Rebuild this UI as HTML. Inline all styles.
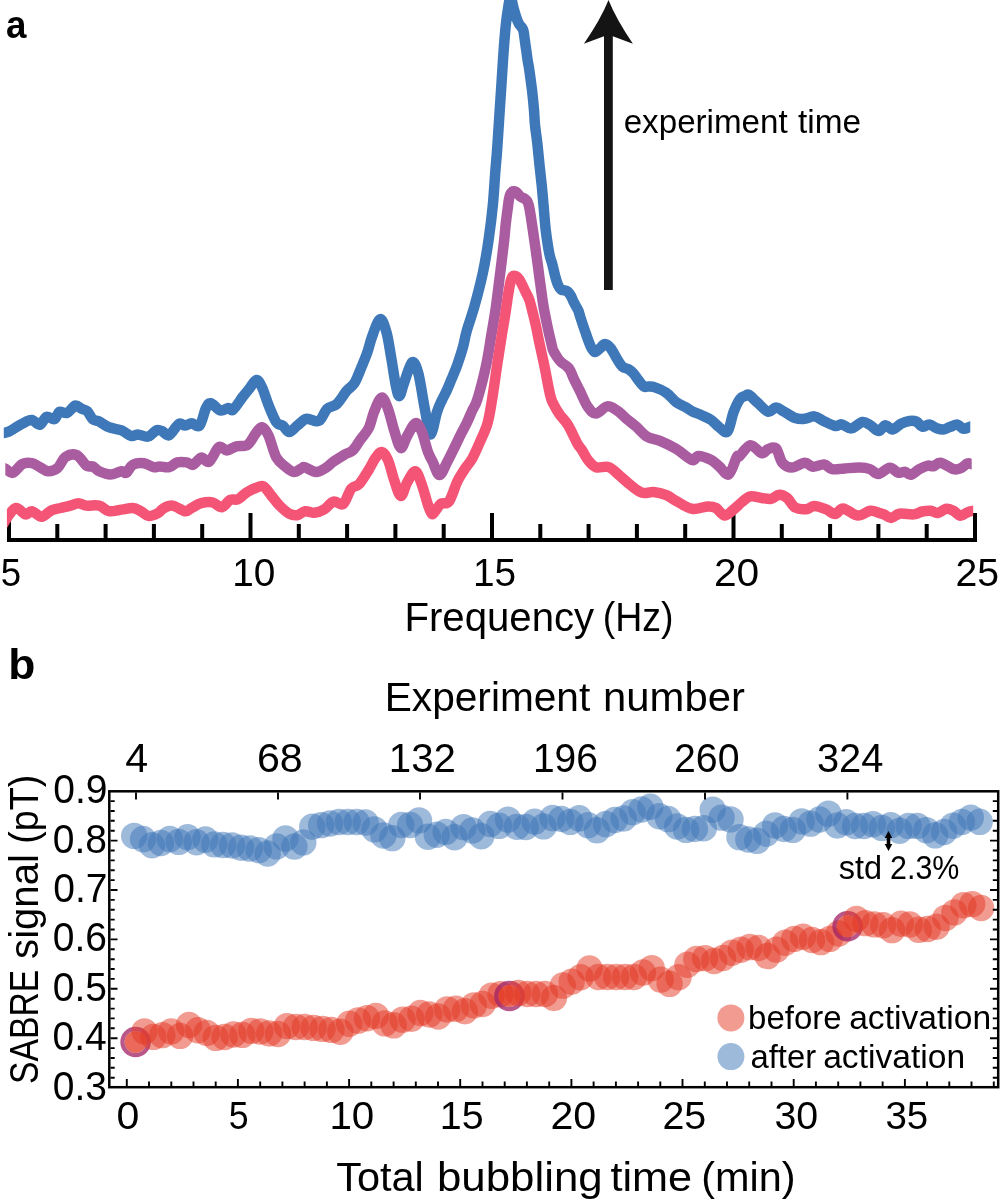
<!DOCTYPE html>
<html><head><meta charset="utf-8"><title>SABRE figure</title>
<style>html,body{margin:0;padding:0;background:#fff;}svg{display:block;font-family:"Liberation Sans",sans-serif;will-change:transform;}</style>
</head><body>
<svg width="1000" height="1202" viewBox="0 0 1000 1202" font-family="Liberation Sans, sans-serif"><defs><clipPath id="cb"><rect x="3.8" y="-20" width="966.5" height="600"/></clipPath><clipPath id="cp"><rect x="5.3" y="-20" width="966.4" height="600"/></clipPath><clipPath id="ck"><rect x="6.9" y="-20" width="966.3" height="600"/></clipPath><clipPath id="pb"><rect x="109" y="791" width="889" height="296"/></clipPath></defs>
<path d="M7,540 H977" stroke="#000" stroke-width="4" fill="none"/>
<path d="M9.0,513 V540 M57.3,524 V540 M105.6,524 V540 M153.9,524 V540 M202.2,524 V540 M250.5,513 V540 M298.8,524 V540 M347.1,524 V540 M395.4,524 V540 M443.7,524 V540 M492.0,513 V540 M540.3,524 V540 M588.6,524 V540 M636.9,524 V540 M685.2,524 V540 M733.5,513 V540 M781.8,524 V540 M830.1,524 V540 M878.4,524 V540 M926.7,524 V540 M975.0,513 V540" stroke="#000" stroke-width="4" fill="none"/>
<path d="M1.0,433.5 C1.5,433.4 2.6,433.3 4.0,432.9 C5.4,432.5 7.3,432.3 9.6,431.2 C11.9,430.1 14.9,427.9 17.6,426.4 C20.3,424.8 23.2,423.0 25.6,421.9 C28.0,420.8 29.6,419.5 32.0,420.0 C34.4,420.5 37.6,425.3 40.0,424.8 C42.4,424.3 44.0,417.7 46.4,416.8 C48.8,415.9 52.3,420.0 54.4,419.2 C56.5,418.4 57.1,413.1 59.2,412.0 C61.3,410.9 64.5,413.9 67.2,412.8 C69.9,411.7 72.8,406.3 75.2,405.6 C77.6,404.9 79.6,407.9 81.6,408.8 C83.6,409.7 85.3,409.5 87.2,411.2 C89.1,412.9 90.8,417.5 92.8,419.2 C94.8,420.9 96.5,420.3 99.2,421.6 C101.9,422.9 105.1,425.7 108.8,427.2 C112.5,428.7 117.9,428.9 121.6,430.4 C125.3,431.9 128.5,435.3 131.2,436.0 C133.9,436.7 134.9,434.3 137.6,434.4 C140.3,434.5 144.8,436.9 147.2,436.8 C149.6,436.7 150.4,435.1 152.0,434.0 C153.6,432.9 155.3,430.5 157.0,430.0 C158.7,429.5 160.0,430.1 162.0,431.0 C164.0,431.9 166.4,436.4 169.2,435.2 C172.0,434.0 176.1,425.6 178.8,424.0 C181.5,422.4 183.1,425.7 185.2,425.6 C187.3,425.5 189.2,423.2 191.6,423.2 C194.0,423.2 197.2,428.1 199.6,425.6 C202.0,423.1 204.1,411.7 206.0,408.0 C207.9,404.3 208.4,402.8 210.8,403.2 C213.2,403.6 217.5,409.6 220.4,410.4 C223.3,411.2 226.3,408.1 228.4,408.0 C230.5,407.9 230.8,411.5 233.2,409.6 C235.6,407.7 240.1,400.3 242.8,396.8 C245.5,393.3 246.9,391.6 249.2,388.8 C251.5,386.0 254.3,380.3 256.4,380.0 C258.5,379.7 260.0,383.1 262.0,387.2 C264.0,391.3 266.0,398.9 268.4,404.8 C270.8,410.7 274.0,418.9 276.4,422.4 C278.8,425.9 280.7,424.0 282.8,425.6 C284.9,427.2 286.8,432.0 289.2,432.0 C291.6,432.0 294.5,427.7 297.2,425.6 C299.9,423.5 303.1,420.3 305.2,419.2 C307.3,418.1 307.3,418.9 309.6,419.2 C311.9,419.5 316.3,422.5 319.2,420.8 C322.1,419.1 324.3,411.6 327.2,408.8 C330.1,406.0 333.6,406.9 336.8,404.0 C340.0,401.1 343.5,394.7 346.4,391.2 C349.3,387.7 352.0,386.9 354.4,383.2 C356.8,379.5 358.7,373.9 360.8,368.8 C362.9,363.7 365.3,358.1 367.2,352.8 C369.1,347.5 369.9,342.4 372.0,336.8 C374.1,331.2 377.6,320.0 380.0,319.2 C382.4,318.4 384.5,325.6 386.4,332.0 C388.3,338.4 389.6,348.5 391.2,357.6 C392.8,366.7 394.6,380.0 396.0,386.4 C397.4,392.8 398.2,396.5 399.5,396.0 C400.8,395.5 401.9,388.8 404.0,383.2 C406.1,377.6 409.6,364.0 412.0,362.4 C414.4,360.8 416.3,365.9 418.4,373.6 C420.5,381.3 422.8,398.7 424.8,408.8 C426.8,418.9 428.5,434.0 430.5,434.5 C432.5,435.0 435.1,417.8 437.0,412.0 C438.9,406.2 440.4,403.5 442.0,400.0 C443.6,396.5 444.8,394.7 446.5,391.0 C448.2,387.3 450.1,382.5 452.0,378.0 C453.9,373.5 455.8,369.2 457.6,364.0 C459.4,358.8 461.5,352.4 463.0,347.0 C464.5,341.6 464.7,338.1 466.6,331.3 C468.5,324.5 471.7,316.1 474.4,306.4 C477.1,296.7 480.4,284.2 482.8,273.1 C485.2,262.0 487.0,250.9 488.6,239.8 C490.2,228.7 491.6,217.7 492.7,206.6 C493.8,195.5 494.5,182.7 495.2,173.3 C495.9,163.9 496.4,159.7 497.1,150.0 C497.8,140.3 498.7,125.8 499.4,115.0 C500.1,104.2 500.8,94.2 501.4,85.0 C502.0,75.8 502.4,69.2 503.0,60.0 C503.6,50.8 504.6,38.0 505.3,30.0 C506.1,22.0 506.6,17.5 507.5,12.0 C508.4,6.5 509.5,-2.3 510.5,-3.0 C511.5,-3.7 512.5,4.5 513.5,8.0 C514.5,11.5 515.6,15.3 516.5,18.0 C517.4,20.7 518.2,22.5 519.0,24.0 C519.8,25.5 520.8,25.8 521.5,27.0 C522.2,28.2 523.0,28.8 523.5,31.0 C524.0,33.2 524.3,36.8 524.8,40.0 C525.2,43.2 525.7,46.7 526.2,50.0 C526.7,53.3 527.1,56.7 527.6,60.0 C528.1,63.3 528.6,65.0 529.3,70.0 C530.0,75.0 531.2,83.3 532.0,90.0 C532.8,96.7 533.5,104.2 534.0,110.0 C534.5,115.8 534.4,119.2 535.0,125.0 C535.6,130.8 536.8,138.3 537.5,145.0 C538.2,151.7 538.8,158.3 539.5,165.0 C540.2,171.7 541.0,178.3 541.7,185.0 C542.4,191.7 542.8,197.5 543.5,205.0 C544.2,212.5 544.8,221.8 545.7,229.8 C546.7,237.8 548.1,247.2 549.2,253.1 C550.3,259.0 551.5,261.0 552.5,265.0 C553.5,269.0 554.5,273.7 555.4,277.0 C556.3,280.3 557.1,282.9 558.0,285.0 C558.9,287.1 559.8,288.6 561.0,289.5 C562.2,290.4 563.8,290.1 565.0,290.5 C566.2,290.9 567.0,291.1 568.0,292.0 C569.0,292.9 570.1,294.5 571.0,296.0 C571.9,297.5 572.5,299.5 573.2,301.0 C573.9,302.5 574.4,303.3 575.3,305.0 C576.2,306.7 577.7,309.0 578.5,311.0 C579.3,313.0 579.1,313.3 580.3,317.0 C581.5,320.7 584.0,328.4 585.8,333.3 C587.5,338.2 589.3,343.5 590.8,346.6 C592.3,349.7 593.5,351.7 595.0,352.0 C596.5,352.3 598.3,349.6 600.0,348.3 C601.7,347.0 603.2,344.1 605.0,344.1 C606.8,344.1 608.9,346.0 610.8,348.3 C612.7,350.6 614.7,355.1 616.6,358.2 C618.5,361.2 620.5,364.8 622.4,366.6 C624.3,368.4 626.4,368.0 628.2,369.1 C630.0,370.2 631.5,371.4 633.2,373.2 C634.9,375.0 636.4,377.7 638.2,379.9 C640.0,382.1 642.2,385.4 644.0,386.5 C645.8,387.6 647.2,386.4 649.0,386.5 C650.8,386.6 652.1,386.3 655.0,387.4 C657.9,388.4 662.9,390.4 666.4,392.8 C669.9,395.2 672.8,399.6 676.0,402.0 C679.2,404.4 682.9,405.7 685.6,407.2 C688.3,408.7 689.3,409.9 692.0,411.2 C694.7,412.5 698.4,413.7 701.6,415.2 C704.8,416.7 708.3,418.0 711.2,420.0 C714.1,422.0 716.5,425.3 719.2,427.2 C721.9,429.1 725.1,434.0 727.5,431.5 C729.9,429.0 731.5,417.4 733.6,412.0 C735.7,406.6 738.1,401.7 740.0,399.0 C741.9,396.3 743.5,396.7 745.0,396.0 C746.5,395.3 746.8,393.8 748.8,394.8 C750.8,395.8 753.6,399.2 756.8,402.0 C760.0,404.8 764.8,410.7 768.0,411.6 C771.2,412.5 773.3,407.6 776.0,407.6 C778.7,407.6 780.8,409.9 784.0,411.6 C787.2,413.3 791.7,416.8 795.2,418.0 C798.7,419.2 801.6,419.1 804.8,418.8 C808.0,418.5 811.2,416.0 814.4,416.4 C817.6,416.8 820.5,419.6 824.0,421.2 C827.5,422.8 832.3,425.5 835.2,426.0 C838.1,426.5 838.9,424.0 841.6,424.4 C844.3,424.8 847.7,428.8 851.2,428.4 C854.7,428.0 859.3,422.6 862.4,422.0 C865.5,421.4 867.3,423.5 870.0,425.0 C872.7,426.5 875.8,430.9 878.4,431.0 C881.0,431.1 883.1,425.6 885.5,425.3 C887.9,425.1 889.9,429.8 892.5,429.5 C895.1,429.2 898.2,425.2 901.0,423.8 C903.8,422.4 906.9,421.4 909.5,421.0 C912.1,420.6 914.5,420.8 916.6,421.7 C918.7,422.6 920.1,426.2 922.2,426.7 C924.3,427.2 926.9,424.4 929.3,424.6 C931.7,424.8 934.0,427.3 936.4,428.1 C938.8,428.9 941.1,429.7 943.5,429.5 C945.9,429.3 948.1,427.5 950.5,426.7 C952.9,425.9 955.5,424.2 957.6,424.6 C959.7,425.0 961.2,428.5 963.3,428.8 C965.4,429.1 968.7,427.2 970.3,426.7 C971.9,426.2 972.5,426.1 973.0,426.0" fill="none" stroke="#3E78B8" stroke-width="10.5" stroke-linejoin="round" stroke-linecap="butt" clip-path="url(#cb)"/>
<path d="M2.0,468.0 C2.6,468.1 3.8,468.0 5.6,468.8 C7.4,469.6 10.0,473.6 12.8,472.8 C15.6,472.0 19.2,465.6 22.4,464.0 C25.6,462.4 29.1,462.7 32.0,463.2 C34.9,463.7 37.3,465.9 40.0,467.2 C42.7,468.5 45.1,471.1 48.0,471.2 C50.9,471.3 54.7,470.4 57.6,468.0 C60.5,465.6 62.4,458.9 65.6,456.8 C68.8,454.7 73.3,453.7 76.8,455.2 C80.3,456.7 83.7,463.7 86.4,465.6 C89.1,467.5 90.7,465.5 92.8,466.4 C94.9,467.3 96.3,469.9 99.2,471.2 C102.1,472.5 106.7,474.4 110.4,474.4 C114.1,474.4 118.9,471.5 121.6,471.2 C124.3,470.9 124.5,473.9 126.4,472.8 C128.3,471.7 129.9,466.4 132.8,464.8 C135.7,463.2 140.5,462.8 144.0,463.2 C147.5,463.6 151.0,466.7 153.6,467.2 C156.2,467.7 157.0,466.4 159.6,466.4 C162.2,466.4 166.3,467.9 169.2,467.2 C172.1,466.5 174.3,463.2 177.2,462.4 C180.1,461.6 184.1,462.0 186.8,462.4 C189.5,462.8 190.8,465.6 193.2,464.8 C195.6,464.0 198.5,458.1 201.2,457.6 C203.9,457.1 206.3,463.3 209.2,461.6 C212.1,459.9 215.9,449.1 218.8,447.2 C221.7,445.3 223.9,450.5 226.8,450.4 C229.7,450.3 232.9,447.3 236.4,446.4 C239.9,445.5 244.4,446.9 247.6,444.8 C250.8,442.7 253.2,436.5 255.6,433.6 C258.0,430.7 259.9,426.9 262.0,427.2 C264.1,427.5 266.0,430.1 268.4,435.2 C270.8,440.3 273.5,452.3 276.4,457.6 C279.3,462.9 283.1,464.8 286.0,467.2 C288.9,469.6 291.3,471.9 294.0,472.0 C296.7,472.1 300.2,468.8 302.0,468.0 C303.8,467.2 302.5,466.5 304.8,467.2 C307.1,467.9 312.5,471.9 316.0,472.0 C319.5,472.1 322.7,469.7 325.6,468.0 C328.5,466.3 330.4,463.9 333.6,461.6 C336.8,459.3 341.6,456.3 344.8,454.4 C348.0,452.5 350.1,452.9 352.8,450.4 C355.5,447.9 358.1,442.9 360.8,439.2 C363.5,435.5 366.6,432.5 368.8,428.0 C371.0,423.5 371.9,417.1 374.0,412.0 C376.1,406.9 379.3,398.1 381.6,397.6 C383.9,397.1 385.9,403.2 388.0,408.8 C390.1,414.4 392.3,424.7 394.4,431.2 C396.5,437.7 398.7,447.2 400.8,448.0 C402.9,448.8 404.8,440.1 407.2,436.0 C409.6,431.9 412.8,424.0 415.2,423.2 C417.6,422.4 419.5,426.4 421.6,431.2 C423.7,436.0 426.1,446.9 428.0,452.0 C429.9,457.1 430.9,458.2 432.8,462.0 C434.7,465.8 437.1,475.0 439.5,475.0 C441.9,475.0 444.6,466.7 447.2,462.0 C449.8,457.3 452.7,451.1 454.9,446.6 C457.1,442.1 458.6,438.9 460.5,435.0 C462.4,431.1 464.7,427.3 466.6,423.3 C468.5,419.3 470.2,415.1 472.0,411.0 C473.8,406.9 475.1,406.8 477.5,399.0 C479.9,391.2 484.1,374.8 486.4,364.0 C488.7,353.2 489.9,343.6 491.5,334.0 C493.1,324.4 494.6,316.5 496.0,306.4 C497.4,296.2 498.8,284.2 500.2,273.1 C501.6,262.0 503.3,248.0 504.2,240.0 C505.1,232.0 505.1,230.0 505.6,225.0 C506.2,220.0 506.9,214.3 507.5,210.0 C508.1,205.7 508.5,201.8 509.0,199.0 C509.5,196.2 510.0,194.8 510.7,193.5 C511.4,192.2 512.1,191.6 513.0,191.3 C513.9,191.0 515.1,191.3 516.0,191.8 C516.9,192.3 517.7,193.6 518.5,194.5 C519.3,195.4 520.1,196.4 521.0,197.0 C521.9,197.6 523.0,197.7 524.0,198.3 C525.0,198.9 526.2,199.7 527.0,200.8 C527.8,201.9 528.1,202.6 528.7,205.0 C529.3,207.4 529.7,209.2 530.6,215.0 C531.5,220.8 533.1,231.7 534.3,240.0 C535.5,248.3 536.8,257.3 537.8,265.0 C538.8,272.7 539.6,279.0 540.6,286.0 C541.6,293.0 542.4,300.0 543.6,307.0 C544.8,314.0 546.6,322.2 547.8,328.0 C549.0,333.8 550.1,338.3 551.0,342.0 C551.9,345.7 552.0,347.5 553.0,350.0 C554.0,352.5 555.7,355.0 557.0,357.0 C558.3,359.0 559.4,360.5 561.0,362.0 C562.6,363.5 564.9,364.7 566.4,366.0 C567.9,367.3 568.7,367.7 570.0,370.0 C571.3,372.3 572.7,376.5 574.4,380.0 C576.1,383.5 577.7,386.7 580.0,391.2 C582.3,395.7 585.3,403.5 588.0,407.2 C590.7,410.9 592.8,413.7 596.0,413.6 C599.2,413.5 603.7,406.9 607.2,406.4 C610.7,405.9 613.3,408.1 616.8,410.4 C620.3,412.7 624.8,417.3 628.0,420.0 C631.2,422.7 632.8,423.6 636.0,426.4 C639.2,429.2 643.2,434.4 647.2,436.8 C651.2,439.2 655.2,438.8 660.0,440.8 C664.8,442.8 670.7,445.6 676.0,448.8 C681.3,452.0 688.3,458.8 692.0,460.0 C695.7,461.2 695.2,456.0 698.4,456.0 C701.6,456.0 707.7,458.3 711.2,460.0 C714.7,461.7 716.3,464.0 719.2,466.4 C722.1,468.8 725.9,476.0 728.8,474.4 C731.7,472.8 735.1,459.8 736.8,456.8 C738.5,453.8 736.9,458.3 739.2,456.4 C741.5,454.5 746.7,445.7 750.4,445.2 C754.1,444.7 758.7,452.5 761.6,453.2 C764.5,453.9 765.6,450.0 768.0,449.2 C770.4,448.4 773.6,446.1 776.0,448.4 C778.4,450.7 779.7,459.6 782.4,462.8 C785.1,466.0 788.3,467.6 792.0,467.6 C795.7,467.6 801.3,462.9 804.8,462.8 C808.3,462.7 809.6,466.5 812.8,466.8 C816.0,467.1 820.8,464.0 824.0,464.4 C827.2,464.8 828.5,468.5 832.0,469.2 C835.5,469.9 840.3,468.7 844.8,468.4 C849.3,468.1 855.0,467.5 859.2,467.6 C863.4,467.7 866.7,468.0 869.9,469.1 C873.1,470.2 875.1,474.2 878.4,474.0 C881.7,473.8 886.4,467.9 889.7,467.7 C893.0,467.5 895.6,471.9 898.2,472.6 C900.8,473.3 903.2,471.5 905.3,471.9 C907.4,472.3 908.5,475.3 910.9,474.8 C913.2,474.3 916.6,470.6 919.4,469.1 C922.2,467.6 925.5,466.1 927.9,465.6 C930.2,465.1 931.4,466.8 933.5,466.3 C935.6,465.8 937.3,462.2 940.6,462.7 C943.9,463.2 950.1,468.2 953.4,469.1 C956.7,470.1 958.0,469.3 960.4,468.4 C962.8,467.5 965.6,464.2 967.5,463.5 C969.4,462.8 970.5,464.1 971.7,464.2 C973.0,464.3 974.5,464.0 975.0,464.0" fill="none" stroke="#AA5CA0" stroke-width="10.5" stroke-linejoin="round" stroke-linecap="butt" clip-path="url(#cp)"/>
<path d="M1.0,528.0 C2.0,526.2 4.7,520.8 7.2,517.5 C9.7,514.2 12.9,508.5 16.0,508.0 C19.1,507.5 22.9,513.9 25.6,514.4 C28.3,514.9 29.3,510.8 32.0,511.2 C34.7,511.6 38.4,516.9 41.6,516.8 C44.8,516.7 48.0,511.9 51.2,510.4 C54.4,508.9 57.6,508.8 60.8,508.0 C64.0,507.2 67.5,506.4 70.4,505.6 C73.3,504.8 75.7,503.2 78.4,503.2 C81.1,503.2 82.9,505.2 86.4,505.6 C89.9,506.0 95.5,504.7 99.2,505.6 C102.9,506.5 105.1,510.5 108.8,511.2 C112.5,511.9 117.6,510.1 121.6,509.6 C125.6,509.1 129.6,507.7 132.8,508.0 C136.0,508.3 138.1,509.9 140.8,511.2 C143.5,512.5 145.9,515.7 148.8,516.0 C151.7,516.3 156.1,514.0 158.4,512.8 C160.7,511.6 160.5,510.0 162.8,508.8 C165.1,507.6 168.7,505.2 172.4,505.6 C176.1,506.0 182.0,510.8 185.2,511.2 C188.4,511.6 188.9,509.3 191.6,508.0 C194.3,506.7 197.7,504.1 201.2,503.2 C204.7,502.3 208.9,501.7 212.4,502.4 C215.9,503.1 219.1,507.6 222.0,507.2 C224.9,506.8 227.3,501.3 230.0,500.0 C232.7,498.7 235.3,500.4 238.0,499.2 C240.7,498.0 243.1,494.7 246.0,492.8 C248.9,490.9 252.7,489.1 255.6,488.0 C258.5,486.9 260.9,485.1 263.6,486.4 C266.3,487.7 268.9,492.8 271.6,496.0 C274.3,499.2 276.7,502.7 279.6,505.6 C282.5,508.5 286.3,512.0 289.2,513.6 C292.1,515.2 294.5,515.6 297.2,515.2 C299.9,514.8 302.3,511.6 305.2,511.2 C308.1,510.8 311.3,513.1 314.4,512.8 C317.5,512.5 320.8,511.5 324.0,509.6 C327.2,507.7 330.4,502.5 333.6,501.6 C336.8,500.7 340.3,506.1 343.2,504.0 C346.1,501.9 348.5,492.1 351.2,488.8 C353.9,485.5 356.3,487.2 359.2,484.0 C362.1,480.8 366.1,473.9 368.8,469.6 C371.5,465.3 373.1,461.3 375.2,458.4 C377.3,455.5 379.5,451.7 381.6,452.0 C383.7,452.3 385.9,455.2 388.0,460.0 C390.1,464.8 392.3,474.8 394.4,480.8 C396.5,486.8 398.7,495.7 400.8,496.0 C402.9,496.3 404.8,486.5 407.2,482.4 C409.6,478.3 412.8,470.9 415.2,471.2 C417.6,471.5 419.5,478.4 421.6,484.0 C423.7,489.6 426.3,500.0 428.0,505.0 C429.7,510.0 430.7,513.2 432.0,514.0 C433.3,514.8 434.5,511.7 436.0,510.0 C437.5,508.3 438.8,505.1 441.0,503.6 C443.2,502.2 446.4,505.0 449.1,501.3 C451.8,497.6 454.8,486.8 457.3,481.5 C459.8,476.2 461.7,473.7 464.2,469.8 C466.7,465.9 469.7,463.1 472.4,458.2 C475.1,453.3 478.0,446.5 480.5,440.7 C483.0,434.9 485.6,430.1 487.5,423.3 C489.4,416.5 490.4,409.6 492.0,400.0 C493.6,390.4 495.4,376.8 497.0,366.0 C498.6,355.2 500.4,343.7 501.8,335.0 C503.2,326.3 504.2,321.0 505.3,314.0 C506.4,307.0 507.5,298.3 508.4,293.0 C509.3,287.7 509.8,284.8 510.5,282.0 C511.2,279.2 511.6,277.4 512.5,276.5 C513.4,275.6 514.9,275.9 516.0,276.3 C517.1,276.7 518.0,277.6 519.0,279.0 C520.0,280.4 521.2,282.8 522.3,285.0 C523.4,287.2 524.4,289.5 525.6,292.0 C526.8,294.5 528.1,296.3 529.4,300.0 C530.6,303.7 531.9,309.3 533.1,314.0 C534.3,318.7 535.4,323.3 536.4,328.0 C537.4,332.7 537.9,336.0 539.2,342.0 C540.5,348.0 542.1,355.0 544.0,364.0 C545.9,373.0 548.7,389.2 550.4,396.0 C552.1,402.8 552.4,401.8 554.0,405.0 C555.6,408.2 557.7,411.7 560.0,415.0 C562.3,418.3 565.1,420.2 568.0,425.0 C570.9,429.8 575.3,439.8 577.6,444.0 C579.9,448.2 580.3,447.3 582.0,450.0 C583.7,452.7 585.7,457.1 588.0,460.0 C590.3,462.9 592.5,466.0 596.0,467.2 C599.5,468.4 604.8,465.7 608.8,467.2 C612.8,468.7 616.3,472.9 620.0,476.0 C623.7,479.1 627.5,482.8 631.2,485.6 C634.9,488.4 638.7,491.7 642.4,492.8 C646.1,493.9 649.6,491.6 653.6,492.0 C657.6,492.4 662.7,493.7 666.4,495.2 C670.1,496.7 671.7,498.5 676.0,500.8 C680.3,503.1 686.7,507.9 692.0,508.8 C697.3,509.7 704.0,506.5 708.0,506.4 C712.0,506.3 713.2,506.5 716.0,508.0 C718.8,509.5 721.7,515.2 724.5,515.5 C727.3,515.8 730.1,512.2 733.0,510.0 C735.9,507.8 739.1,504.3 742.0,502.0 C744.9,499.7 747.1,497.1 750.4,496.4 C753.7,495.7 758.1,497.6 761.6,498.0 C765.1,498.4 768.3,499.3 771.2,498.8 C774.1,498.3 776.5,494.9 779.2,494.8 C781.9,494.7 784.5,495.9 787.2,498.0 C789.9,500.1 792.0,505.7 795.2,507.6 C798.4,509.5 803.2,509.5 806.4,509.2 C809.6,508.9 811.2,506.0 814.4,506.0 C817.6,506.0 822.1,507.9 825.6,509.2 C829.1,510.5 832.3,514.1 835.2,514.0 C838.1,513.9 839.5,508.1 843.2,508.4 C846.9,508.7 853.1,515.2 857.6,515.6 C862.1,516.0 866.7,511.2 870.4,510.8 C874.1,510.4 877.7,512.6 880.0,513.2 C882.3,513.8 882.1,513.6 884.0,514.4 C885.9,515.2 888.6,518.0 891.2,517.9 C893.8,517.8 895.8,514.3 899.6,513.7 C903.4,513.1 910.0,514.8 913.8,514.4 C917.6,514.0 919.4,512.1 922.2,511.5 C925.0,510.9 928.1,510.6 930.7,510.8 C933.3,511.1 935.2,513.4 937.8,513.0 C940.4,512.6 943.7,509.1 946.3,508.7 C948.9,508.3 951.0,509.6 953.4,510.8 C955.8,512.0 958.0,515.5 960.4,515.8 C962.8,516.0 965.4,513.1 967.5,512.3 C969.6,511.5 971.8,511.1 973.2,510.8 C974.6,510.5 975.5,510.6 976.0,510.5" fill="none" stroke="#F45576" stroke-width="10.5" stroke-linejoin="round" stroke-linecap="butt" clip-path="url(#ck)"/>
<path d="M608.5,0 Q600.8,19.2 583.9,43.7 L604,36.3 L604,290 L612.8,290 L612.8,36.3 L632.9,43.7 Q616.2,19.2 608.5,0 Z" fill="#141414"/>
<g><circle cx="134.2" cy="835.91" r="13.2" fill="rgba(61,117,183,0.5)"/><circle cx="143.1" cy="839.07" r="13.2" fill="rgba(61,117,183,0.5)"/><circle cx="152.0" cy="845.23" r="13.2" fill="rgba(61,117,183,0.5)"/><circle cx="160.9" cy="843.04" r="13.2" fill="rgba(61,117,183,0.5)"/><circle cx="169.8" cy="839.06" r="13.2" fill="rgba(61,117,183,0.5)"/><circle cx="178.7" cy="841.89" r="13.2" fill="rgba(61,117,183,0.5)"/><circle cx="187.6" cy="837.26" r="13.2" fill="rgba(61,117,183,0.5)"/><circle cx="196.5" cy="842.24" r="13.2" fill="rgba(61,117,183,0.5)"/><circle cx="205.4" cy="839.57" r="13.2" fill="rgba(61,117,183,0.5)"/><circle cx="214.3" cy="844.35" r="13.2" fill="rgba(61,117,183,0.5)"/><circle cx="223.2" cy="845.05" r="13.2" fill="rgba(61,117,183,0.5)"/><circle cx="232.1" cy="845.44" r="13.2" fill="rgba(61,117,183,0.5)"/><circle cx="241.0" cy="847.71" r="13.2" fill="rgba(61,117,183,0.5)"/><circle cx="249.9" cy="848.56" r="13.2" fill="rgba(61,117,183,0.5)"/><circle cx="258.8" cy="850.08" r="13.2" fill="rgba(61,117,183,0.5)"/><circle cx="267.7" cy="853.5" r="13.2" fill="rgba(61,117,183,0.5)"/><circle cx="276.6" cy="846.4" r="13.2" fill="rgba(61,117,183,0.5)"/><circle cx="285.5" cy="838.45" r="13.2" fill="rgba(61,117,183,0.5)"/><circle cx="294.4" cy="846.55" r="13.2" fill="rgba(61,117,183,0.5)"/><circle cx="303.3" cy="842.38" r="13.2" fill="rgba(61,117,183,0.5)"/><circle cx="312.2" cy="826.78" r="13.2" fill="rgba(61,117,183,0.5)"/><circle cx="321.1" cy="825.16" r="13.2" fill="rgba(61,117,183,0.5)"/><circle cx="330.0" cy="823.5" r="13.2" fill="rgba(61,117,183,0.5)"/><circle cx="338.9" cy="822.0" r="13.2" fill="rgba(61,117,183,0.5)"/><circle cx="347.8" cy="822.0" r="13.2" fill="rgba(61,117,183,0.5)"/><circle cx="356.7" cy="822.0" r="13.2" fill="rgba(61,117,183,0.5)"/><circle cx="365.6" cy="822.47" r="13.2" fill="rgba(61,117,183,0.5)"/><circle cx="374.5" cy="829.38" r="13.2" fill="rgba(61,117,183,0.5)"/><circle cx="383.4" cy="835.43" r="13.2" fill="rgba(61,117,183,0.5)"/><circle cx="392.3" cy="838.17" r="13.2" fill="rgba(61,117,183,0.5)"/><circle cx="401.2" cy="825.0" r="13.2" fill="rgba(61,117,183,0.5)"/><circle cx="410.1" cy="825.0" r="13.2" fill="rgba(61,117,183,0.5)"/><circle cx="419.0" cy="820.33" r="13.2" fill="rgba(61,117,183,0.5)"/><circle cx="427.9" cy="836.74" r="13.2" fill="rgba(61,117,183,0.5)"/><circle cx="436.8" cy="834.75" r="13.2" fill="rgba(61,117,183,0.5)"/><circle cx="445.7" cy="831.87" r="13.2" fill="rgba(61,117,183,0.5)"/><circle cx="454.6" cy="837.27" r="13.2" fill="rgba(61,117,183,0.5)"/><circle cx="463.5" cy="827.17" r="13.2" fill="rgba(61,117,183,0.5)"/><circle cx="472.4" cy="830.4" r="13.2" fill="rgba(61,117,183,0.5)"/><circle cx="481.3" cy="836.18" r="13.2" fill="rgba(61,117,183,0.5)"/><circle cx="490.2" cy="824.04" r="13.2" fill="rgba(61,117,183,0.5)"/><circle cx="499.1" cy="825.82" r="13.2" fill="rgba(61,117,183,0.5)"/><circle cx="508.0" cy="819.6" r="13.2" fill="rgba(61,117,183,0.5)"/><circle cx="516.9" cy="826.87" r="13.2" fill="rgba(61,117,183,0.5)"/><circle cx="525.8" cy="827.0" r="13.2" fill="rgba(61,117,183,0.5)"/><circle cx="534.7" cy="821.78" r="13.2" fill="rgba(61,117,183,0.5)"/><circle cx="543.6" cy="826.4" r="13.2" fill="rgba(61,117,183,0.5)"/><circle cx="552.5" cy="818.05" r="13.2" fill="rgba(61,117,183,0.5)"/><circle cx="561.4" cy="818.94" r="13.2" fill="rgba(61,117,183,0.5)"/><circle cx="570.3" cy="821.88" r="13.2" fill="rgba(61,117,183,0.5)"/><circle cx="579.2" cy="818.32" r="13.2" fill="rgba(61,117,183,0.5)"/><circle cx="588.1" cy="825.08" r="13.2" fill="rgba(61,117,183,0.5)"/><circle cx="597.0" cy="830.3" r="13.2" fill="rgba(61,117,183,0.5)"/><circle cx="605.9" cy="824.07" r="13.2" fill="rgba(61,117,183,0.5)"/><circle cx="614.8" cy="820.0" r="13.2" fill="rgba(61,117,183,0.5)"/><circle cx="623.7" cy="818.51" r="13.2" fill="rgba(61,117,183,0.5)"/><circle cx="632.6" cy="812.22" r="13.2" fill="rgba(61,117,183,0.5)"/><circle cx="641.5" cy="809.54" r="13.2" fill="rgba(61,117,183,0.5)"/><circle cx="650.4" cy="806.8" r="13.2" fill="rgba(61,117,183,0.5)"/><circle cx="659.3" cy="816.29" r="13.2" fill="rgba(61,117,183,0.5)"/><circle cx="668.2" cy="819.07" r="13.2" fill="rgba(61,117,183,0.5)"/><circle cx="677.1" cy="826.49" r="13.2" fill="rgba(61,117,183,0.5)"/><circle cx="686.0" cy="829.9" r="13.2" fill="rgba(61,117,183,0.5)"/><circle cx="694.9" cy="829.01" r="13.2" fill="rgba(61,117,183,0.5)"/><circle cx="703.8" cy="828.2" r="13.2" fill="rgba(61,117,183,0.5)"/><circle cx="712.7" cy="809.63" r="13.2" fill="rgba(61,117,183,0.5)"/><circle cx="721.6" cy="817.64" r="13.2" fill="rgba(61,117,183,0.5)"/><circle cx="730.5" cy="819.42" r="13.2" fill="rgba(61,117,183,0.5)"/><circle cx="739.4" cy="837.11" r="13.2" fill="rgba(61,117,183,0.5)"/><circle cx="748.3" cy="839.54" r="13.2" fill="rgba(61,117,183,0.5)"/><circle cx="757.2" cy="840.8" r="13.2" fill="rgba(61,117,183,0.5)"/><circle cx="766.1" cy="833.78" r="13.2" fill="rgba(61,117,183,0.5)"/><circle cx="775.0" cy="825.4" r="13.2" fill="rgba(61,117,183,0.5)"/><circle cx="783.9" cy="828.96" r="13.2" fill="rgba(61,117,183,0.5)"/><circle cx="792.8" cy="829.88" r="13.2" fill="rgba(61,117,183,0.5)"/><circle cx="801.7" cy="821.42" r="13.2" fill="rgba(61,117,183,0.5)"/><circle cx="810.6" cy="823.65" r="13.2" fill="rgba(61,117,183,0.5)"/><circle cx="819.5" cy="819.5" r="13.2" fill="rgba(61,117,183,0.5)"/><circle cx="828.4" cy="813.65" r="13.2" fill="rgba(61,117,183,0.5)"/><circle cx="837.3" cy="825.53" r="13.2" fill="rgba(61,117,183,0.5)"/><circle cx="846.2" cy="822.29" r="13.2" fill="rgba(61,117,183,0.5)"/><circle cx="855.1" cy="826.0" r="13.2" fill="rgba(61,117,183,0.5)"/><circle cx="864.0" cy="826.0" r="13.2" fill="rgba(61,117,183,0.5)"/><circle cx="872.9" cy="824.22" r="13.2" fill="rgba(61,117,183,0.5)"/><circle cx="881.8" cy="827.9" r="13.2" fill="rgba(61,117,183,0.5)"/><circle cx="890.7" cy="825.17" r="13.2" fill="rgba(61,117,183,0.5)"/><circle cx="899.6" cy="830.73" r="13.2" fill="rgba(61,117,183,0.5)"/><circle cx="908.5" cy="825.9" r="13.2" fill="rgba(61,117,183,0.5)"/><circle cx="917.4" cy="825.92" r="13.2" fill="rgba(61,117,183,0.5)"/><circle cx="926.3" cy="830.15" r="13.2" fill="rgba(61,117,183,0.5)"/><circle cx="935.2" cy="835.32" r="13.2" fill="rgba(61,117,183,0.5)"/><circle cx="944.1" cy="831.93" r="13.2" fill="rgba(61,117,183,0.5)"/><circle cx="953.0" cy="825.7" r="13.2" fill="rgba(61,117,183,0.5)"/><circle cx="961.9" cy="821.84" r="13.2" fill="rgba(61,117,183,0.5)"/><circle cx="970.8" cy="817.6" r="13.2" fill="rgba(61,117,183,0.5)"/><circle cx="979.7" cy="821.81" r="13.2" fill="rgba(61,117,183,0.5)"/><circle cx="135.6" cy="1042.0" r="11" fill="rgba(227,55,35,0.75)"/><circle cx="135.6" cy="1042.0" r="13.15" fill="none" stroke="rgba(160,32,99,0.75)" stroke-width="4.3"/><circle cx="144.5" cy="1031.33" r="13.2" fill="rgba(227,55,35,0.5)"/><circle cx="153.4" cy="1036.92" r="13.2" fill="rgba(227,55,35,0.5)"/><circle cx="162.3" cy="1035.14" r="13.2" fill="rgba(227,55,35,0.5)"/><circle cx="171.2" cy="1031.36" r="13.2" fill="rgba(227,55,35,0.5)"/><circle cx="180.1" cy="1035.88" r="13.2" fill="rgba(227,55,35,0.5)"/><circle cx="189.0" cy="1025.0" r="13.2" fill="rgba(227,55,35,0.5)"/><circle cx="197.9" cy="1030.27" r="13.2" fill="rgba(227,55,35,0.5)"/><circle cx="206.8" cy="1032.94" r="13.2" fill="rgba(227,55,35,0.5)"/><circle cx="215.7" cy="1037.83" r="13.2" fill="rgba(227,55,35,0.5)"/><circle cx="224.6" cy="1037.04" r="13.2" fill="rgba(227,55,35,0.5)"/><circle cx="233.5" cy="1034.45" r="13.2" fill="rgba(227,55,35,0.5)"/><circle cx="242.4" cy="1034.92" r="13.2" fill="rgba(227,55,35,0.5)"/><circle cx="251.3" cy="1030.85" r="13.2" fill="rgba(227,55,35,0.5)"/><circle cx="260.2" cy="1031.44" r="13.2" fill="rgba(227,55,35,0.5)"/><circle cx="269.1" cy="1033.53" r="13.2" fill="rgba(227,55,35,0.5)"/><circle cx="278.0" cy="1034.0" r="13.2" fill="rgba(227,55,35,0.5)"/><circle cx="286.9" cy="1026.1" r="13.2" fill="rgba(227,55,35,0.5)"/><circle cx="295.8" cy="1027.0" r="13.2" fill="rgba(227,55,35,0.5)"/><circle cx="304.7" cy="1027.0" r="13.2" fill="rgba(227,55,35,0.5)"/><circle cx="313.6" cy="1027.86" r="13.2" fill="rgba(227,55,35,0.5)"/><circle cx="322.5" cy="1028.83" r="13.2" fill="rgba(227,55,35,0.5)"/><circle cx="331.4" cy="1029.92" r="13.2" fill="rgba(227,55,35,0.5)"/><circle cx="340.3" cy="1031.73" r="13.2" fill="rgba(227,55,35,0.5)"/><circle cx="349.2" cy="1023.72" r="13.2" fill="rgba(227,55,35,0.5)"/><circle cx="358.1" cy="1020.57" r="13.2" fill="rgba(227,55,35,0.5)"/><circle cx="367.0" cy="1018.25" r="13.2" fill="rgba(227,55,35,0.5)"/><circle cx="375.9" cy="1015.9" r="13.2" fill="rgba(227,55,35,0.5)"/><circle cx="384.8" cy="1023.4" r="13.2" fill="rgba(227,55,35,0.5)"/><circle cx="393.7" cy="1025.3" r="13.2" fill="rgba(227,55,35,0.5)"/><circle cx="402.6" cy="1019.58" r="13.2" fill="rgba(227,55,35,0.5)"/><circle cx="411.5" cy="1018.78" r="13.2" fill="rgba(227,55,35,0.5)"/><circle cx="420.4" cy="1013.0" r="13.2" fill="rgba(227,55,35,0.5)"/><circle cx="429.3" cy="1014.53" r="13.2" fill="rgba(227,55,35,0.5)"/><circle cx="438.2" cy="1016.52" r="13.2" fill="rgba(227,55,35,0.5)"/><circle cx="447.1" cy="1009.38" r="13.2" fill="rgba(227,55,35,0.5)"/><circle cx="456.0" cy="1008.8" r="13.2" fill="rgba(227,55,35,0.5)"/><circle cx="464.9" cy="1011.21" r="13.2" fill="rgba(227,55,35,0.5)"/><circle cx="473.8" cy="1005.45" r="13.2" fill="rgba(227,55,35,0.5)"/><circle cx="482.7" cy="1004.03" r="13.2" fill="rgba(227,55,35,0.5)"/><circle cx="491.6" cy="995.68" r="13.2" fill="rgba(227,55,35,0.5)"/><circle cx="500.5" cy="994.14" r="13.2" fill="rgba(227,55,35,0.5)"/><circle cx="509.4" cy="995.99" r="11" fill="rgba(227,55,35,0.75)"/><circle cx="509.4" cy="995.99" r="13.15" fill="none" stroke="rgba(160,32,99,0.75)" stroke-width="4.3"/><circle cx="518.3" cy="993.03" r="13.2" fill="rgba(227,55,35,0.5)"/><circle cx="527.2" cy="994.0" r="13.2" fill="rgba(227,55,35,0.5)"/><circle cx="536.1" cy="994.0" r="13.2" fill="rgba(227,55,35,0.5)"/><circle cx="545.0" cy="994.0" r="13.2" fill="rgba(227,55,35,0.5)"/><circle cx="553.9" cy="997.96" r="13.2" fill="rgba(227,55,35,0.5)"/><circle cx="562.8" cy="985.56" r="13.2" fill="rgba(227,55,35,0.5)"/><circle cx="571.7" cy="981.69" r="13.2" fill="rgba(227,55,35,0.5)"/><circle cx="580.6" cy="977.27" r="13.2" fill="rgba(227,55,35,0.5)"/><circle cx="589.5" cy="968.5" r="13.2" fill="rgba(227,55,35,0.5)"/><circle cx="598.4" cy="977.0" r="13.2" fill="rgba(227,55,35,0.5)"/><circle cx="607.3" cy="977.0" r="13.2" fill="rgba(227,55,35,0.5)"/><circle cx="616.2" cy="977.0" r="13.2" fill="rgba(227,55,35,0.5)"/><circle cx="625.1" cy="977.0" r="13.2" fill="rgba(227,55,35,0.5)"/><circle cx="634.0" cy="977.0" r="13.2" fill="rgba(227,55,35,0.5)"/><circle cx="642.9" cy="972.55" r="13.2" fill="rgba(227,55,35,0.5)"/><circle cx="651.8" cy="968.1" r="13.2" fill="rgba(227,55,35,0.5)"/><circle cx="660.7" cy="979.6" r="13.2" fill="rgba(227,55,35,0.5)"/><circle cx="669.6" cy="983.82" r="13.2" fill="rgba(227,55,35,0.5)"/><circle cx="678.5" cy="977.28" r="13.2" fill="rgba(227,55,35,0.5)"/><circle cx="687.4" cy="964.73" r="13.2" fill="rgba(227,55,35,0.5)"/><circle cx="696.3" cy="958.97" r="13.2" fill="rgba(227,55,35,0.5)"/><circle cx="705.2" cy="958.08" r="13.2" fill="rgba(227,55,35,0.5)"/><circle cx="714.1" cy="960.97" r="13.2" fill="rgba(227,55,35,0.5)"/><circle cx="723.0" cy="958.0" r="13.2" fill="rgba(227,55,35,0.5)"/><circle cx="731.9" cy="952.7" r="13.2" fill="rgba(227,55,35,0.5)"/><circle cx="740.8" cy="949.73" r="13.2" fill="rgba(227,55,35,0.5)"/><circle cx="749.7" cy="947.07" r="13.2" fill="rgba(227,55,35,0.5)"/><circle cx="758.6" cy="947.96" r="13.2" fill="rgba(227,55,35,0.5)"/><circle cx="767.5" cy="956.06" r="13.2" fill="rgba(227,55,35,0.5)"/><circle cx="776.4" cy="949.6" r="13.2" fill="rgba(227,55,35,0.5)"/><circle cx="785.3" cy="942.68" r="13.2" fill="rgba(227,55,35,0.5)"/><circle cx="794.2" cy="938.9" r="13.2" fill="rgba(227,55,35,0.5)"/><circle cx="803.1" cy="936.77" r="13.2" fill="rgba(227,55,35,0.5)"/><circle cx="812.0" cy="940.0" r="13.2" fill="rgba(227,55,35,0.5)"/><circle cx="820.9" cy="942.13" r="13.2" fill="rgba(227,55,35,0.5)"/><circle cx="829.8" cy="938.92" r="13.2" fill="rgba(227,55,35,0.5)"/><circle cx="838.7" cy="933.47" r="13.2" fill="rgba(227,55,35,0.5)"/><circle cx="847.6" cy="926.22" r="11" fill="rgba(227,55,35,0.75)"/><circle cx="847.6" cy="926.22" r="13.15" fill="none" stroke="rgba(160,32,99,0.75)" stroke-width="4.3"/><circle cx="856.5" cy="918.86" r="13.2" fill="rgba(227,55,35,0.5)"/><circle cx="865.4" cy="923.13" r="13.2" fill="rgba(227,55,35,0.5)"/><circle cx="874.3" cy="924.34" r="13.2" fill="rgba(227,55,35,0.5)"/><circle cx="883.2" cy="925.2" r="13.2" fill="rgba(227,55,35,0.5)"/><circle cx="892.1" cy="930.13" r="13.2" fill="rgba(227,55,35,0.5)"/><circle cx="901.0" cy="923.78" r="13.2" fill="rgba(227,55,35,0.5)"/><circle cx="909.9" cy="924.48" r="13.2" fill="rgba(227,55,35,0.5)"/><circle cx="918.8" cy="929.8" r="13.2" fill="rgba(227,55,35,0.5)"/><circle cx="927.7" cy="929.0" r="13.2" fill="rgba(227,55,35,0.5)"/><circle cx="936.6" cy="926.71" r="13.2" fill="rgba(227,55,35,0.5)"/><circle cx="945.5" cy="917.95" r="13.2" fill="rgba(227,55,35,0.5)"/><circle cx="954.4" cy="912.4" r="13.2" fill="rgba(227,55,35,0.5)"/><circle cx="963.3" cy="905.23" r="13.2" fill="rgba(227,55,35,0.5)"/><circle cx="972.2" cy="904.1" r="13.2" fill="rgba(227,55,35,0.5)"/><circle cx="981.1" cy="908.0" r="13.2" fill="rgba(227,55,35,0.5)"/></g>
<rect x="109.3" y="791.3" width="888.9" height="295.9" fill="none" stroke="#000" stroke-width="2.5"/>
<path d="M110.5,1077.7 h4.2 M997,1077.7 h-4.2 M110.5,1067.8 h4.2 M997,1067.8 h-4.2 M110.5,1058.0 h4.2 M997,1058.0 h-4.2 M110.5,1048.1 h4.2 M997,1048.1 h-4.2 M110.5,1038.2 h7 M997,1038.2 h-7 M110.5,1028.3 h4.2 M997,1028.3 h-4.2 M110.5,1018.4 h4.2 M997,1018.4 h-4.2 M110.5,1008.6 h4.2 M997,1008.6 h-4.2 M110.5,998.7 h4.2 M997,998.7 h-4.2 M110.5,988.8 h7 M997,988.8 h-7 M110.5,978.9 h4.2 M997,978.9 h-4.2 M110.5,969.0 h4.2 M997,969.0 h-4.2 M110.5,959.2 h4.2 M997,959.2 h-4.2 M110.5,949.3 h4.2 M997,949.3 h-4.2 M110.5,939.4 h7 M997,939.4 h-7 M110.5,929.5 h4.2 M997,929.5 h-4.2 M110.5,919.6 h4.2 M997,919.6 h-4.2 M110.5,909.8 h4.2 M997,909.8 h-4.2 M110.5,899.9 h4.2 M997,899.9 h-4.2 M110.5,890.0 h7 M997,890.0 h-7 M110.5,880.1 h4.2 M997,880.1 h-4.2 M110.5,870.2 h4.2 M997,870.2 h-4.2 M110.5,860.4 h4.2 M997,860.4 h-4.2 M110.5,850.5 h4.2 M997,850.5 h-4.2 M110.5,840.6 h7 M997,840.6 h-7 M110.5,830.7 h4.2 M997,830.7 h-4.2 M110.5,820.8 h4.2 M997,820.8 h-4.2 M110.5,811.0 h4.2 M997,811.0 h-4.2 M110.5,801.1 h4.2 M997,801.1 h-4.2 M126.8,1086 v-7 M149.0,1086 v-4.5 M171.3,1086 v-4.5 M193.5,1086 v-4.5 M215.7,1086 v-4.5 M237.9,1086 v-7 M260.2,1086 v-4.5 M282.4,1086 v-4.5 M304.6,1086 v-4.5 M326.9,1086 v-4.5 M349.1,1086 v-7 M371.3,1086 v-4.5 M393.6,1086 v-4.5 M415.8,1086 v-4.5 M438.0,1086 v-4.5 M460.2,1086 v-7 M482.5,1086 v-4.5 M504.7,1086 v-4.5 M526.9,1086 v-4.5 M549.2,1086 v-4.5 M571.4,1086 v-7 M593.6,1086 v-4.5 M615.9,1086 v-4.5 M638.1,1086 v-4.5 M660.3,1086 v-4.5 M682.5,1086 v-7 M704.8,1086 v-4.5 M727.0,1086 v-4.5 M749.2,1086 v-4.5 M771.5,1086 v-4.5 M793.7,1086 v-7 M815.9,1086 v-4.5 M838.2,1086 v-4.5 M860.4,1086 v-4.5 M882.6,1086 v-4.5 M904.9,1086 v-7 M927.1,1086 v-4.5 M949.3,1086 v-4.5 M971.5,1086 v-4.5 M993.8,1086 v-4.5 M136,792.4 v7 M278,792.4 v7 M420,792.4 v7 M562.5,792.4 v7 M705,792.4 v7 M847.4,792.4 v7" stroke="#000" stroke-width="1.9" fill="none"/>
<circle cx="730.9" cy="1017.9" r="13.5" fill="rgba(227,55,35,0.5)"/>
<circle cx="730.9" cy="1056.6" r="13.5" fill="rgba(61,117,183,0.5)"/>
<path d="M888.5,830.9 L884.7,838 L886.7,838 L886.7,844 L884.7,844 L888.5,850.9 L892.3,844 L890.3,844 L890.3,838 L892.3,838 Z" fill="#000"/>
<text transform="translate(6.10,38.40) scale(0.9682,1)" font-size="38" font-weight="bold" fill="#000">a</text>
<text transform="translate(8.29,679.00) scale(1.0571,1)" font-size="42" font-weight="bold" fill="#000">b</text>
<text transform="translate(623.67,133.30) scale(1.0204,1)" font-size="32.5" fill="#000">experiment</text>
<text transform="translate(798.08,133.30) scale(1.0270,1)" font-size="32.5" fill="#000">time</text>
<text transform="translate(0.84,585.50) scale(0.9241,1)" font-size="39.6" fill="#000">5</text>
<text transform="translate(232.30,585.50) scale(0.9795,1)" font-size="39.6" fill="#000">10</text>
<text transform="translate(472.90,585.50) scale(0.9795,1)" font-size="39.6" fill="#000">15</text>
<text transform="translate(713.97,585.50) scale(1.0274,1)" font-size="39.6" fill="#000">20</text>
<text transform="translate(955.54,585.50) scale(0.9903,1)" font-size="39.6" fill="#000">25</text>
<text transform="translate(404.49,630.70) scale(0.9793,1)" font-size="41" fill="#000">Frequency</text>
<text transform="translate(602.75,630.70) scale(0.9150,1)" font-size="41" fill="#000">(Hz)</text>
<text transform="translate(384.75,710.50) scale(0.9913,1)" font-size="41" fill="#000">Experiment</text>
<text transform="translate(603.07,710.50) scale(1.0200,1)" font-size="41" fill="#000">number</text>
<text transform="translate(125.18,772.40) scale(1.0294,1)" font-size="40" fill="#000">4</text>
<text transform="translate(256.94,772.40) scale(1.0294,1)" font-size="40" fill="#000">68</text>
<text transform="translate(388.78,772.40) scale(1.0065,1)" font-size="40" fill="#000">132</text>
<text transform="translate(532.88,772.40) scale(0.9740,1)" font-size="40" fill="#000">196</text>
<text transform="translate(674.04,772.40) scale(0.9810,1)" font-size="40" fill="#000">260</text>
<text transform="translate(816.90,772.40) scale(0.9969,1)" font-size="40" fill="#000">324</text>
<text transform="translate(116.56,1128.80) scale(1.0524,1)" font-size="39" fill="#000">0</text>
<text transform="translate(336.17,1191.30) scale(1.0123,1)" font-size="41" fill="#000">Total</text>
<text transform="translate(436.93,1191.30) scale(1.0692,1)" font-size="41" fill="#000">bubbling</text>
<text transform="translate(610.38,1191.30) scale(1.0553,1)" font-size="41" fill="#000">time</text>
<text transform="translate(701.26,1191.30) scale(1.0106,1)" font-size="41" fill="#000">(min)</text>
<text transform="translate(838.82,878.90) scale(0.9848,1)" font-size="33" fill="#000">std</text>
<text transform="translate(890.08,878.90) scale(0.9215,1)" font-size="33" fill="#000">2.3%</text>
<text transform="translate(748.09,1028.80) scale(0.9993,1)" font-size="33" fill="#000">before</text>
<text transform="translate(849.16,1028.80) scale(1.0187,1)" font-size="33" fill="#000">activation</text>
<text transform="translate(750.39,1067.80) scale(0.9950,1)" font-size="33" fill="#000">after</text>
<text transform="translate(823.16,1067.80) scale(1.0187,1)" font-size="33" fill="#000">activation</text>
<text transform="translate(228.77,1128.80) scale(0.9165,1)" font-size="39" fill="#000">5</text>
<text transform="translate(329.38,1128.80) scale(1.0334,1)" font-size="39" fill="#000">10</text>
<text transform="translate(439.85,1128.80) scale(1.0101,1)" font-size="39" fill="#000">15</text>
<text transform="translate(550.44,1128.80) scale(1.0558,1)" font-size="39" fill="#000">20</text>
<text transform="translate(662.43,1128.80) scale(1.0106,1)" font-size="39" fill="#000">25</text>
<text transform="translate(774.43,1128.80) scale(1.0082,1)" font-size="39" fill="#000">30</text>
<text transform="translate(885.46,1128.80) scale(0.9858,1)" font-size="39" fill="#000">35</text>
<text transform="translate(52.85,1099.60) scale(0.9750,1)" font-size="40" fill="#000">0.3</text>
<text transform="translate(52.46,1050.20) scale(0.9750,1)" font-size="40" fill="#000">0.4</text>
<text transform="translate(52.85,1000.80) scale(0.9750,1)" font-size="40" fill="#000">0.5</text>
<text transform="translate(52.85,951.40) scale(0.9750,1)" font-size="40" fill="#000">0.6</text>
<text transform="translate(53.24,902.00) scale(0.9750,1)" font-size="40" fill="#000">0.7</text>
<text transform="translate(52.85,852.60) scale(0.9750,1)" font-size="40" fill="#000">0.8</text>
<text transform="translate(53.24,803.20) scale(0.9750,1)" font-size="40" fill="#000">0.9</text>
<text transform="translate(37.8,1082.4) rotate(-90) translate(-1.69,0) scale(0.8335,1)" font-size="40.5" fill="#000">SABRE</text>
<text transform="translate(37.8,957.7) rotate(-90) translate(-1.20,0) scale(0.9906,1)" font-size="40.5" fill="#000">signal</text>
<text transform="translate(37.8,841.5) rotate(-90) translate(-2.26,0) scale(0.9299,1)" font-size="40.5" fill="#000">(pT)</text></svg>
</body></html>
